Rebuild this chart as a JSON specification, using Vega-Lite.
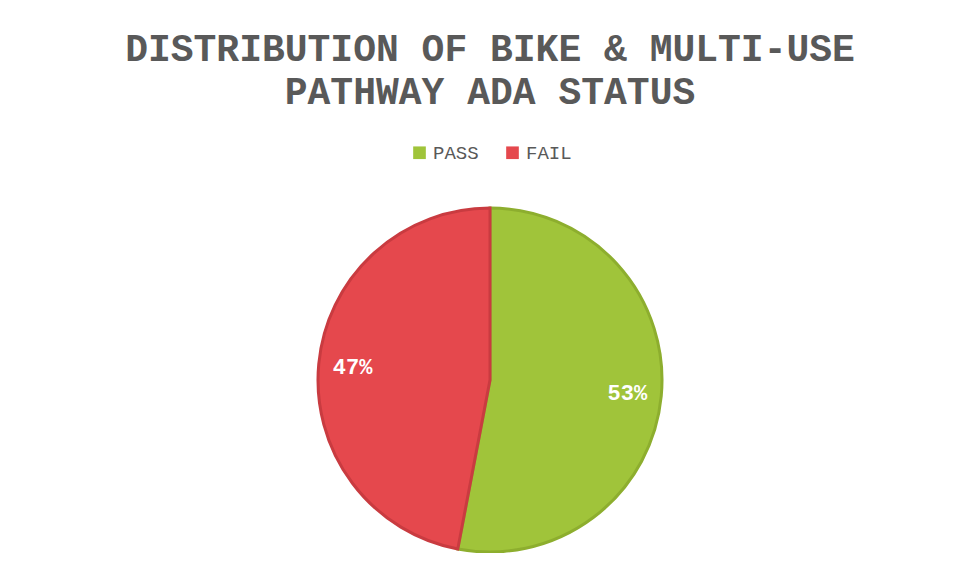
{
  "$schema": "https://vega.github.io/schema/vega-lite/v6.json",
  "autosize": "none",
  "padding": {"top": 207, "left": 0, "right": 0, "bottom": 0},
  "width": 980,
  "height": 346,
  "background": "white",
  "config": {"view": {"stroke": null}},
  "title": {
    "text": ["DISTRIBUTION OF BIKE & MULTI-USE", "PATHWAY ADA STATUS"],
    "font": "Liberation Mono",
    "fontSize": 38,
    "fontWeight": "bold",
    "color": "#595959",
    "anchor": "middle",
    "frame": "group",
    "lineHeight": 43,
    "baseline": "alphabetic",
    "offset": 10,
    "dy": 9
  },
  "data": {
    "values": [
      {"status": "PASS", "value": 53, "label": "53%", "ord": 1},
      {"status": "FAIL", "value": 47, "label": "47%", "ord": 2}
    ]
  },
  "encoding": {
    "theta": {"field": "value", "type": "quantitative", "stack": true},
    "order": {"field": "ord", "type": "quantitative"}
  },
  "layer": [
    {
      "mark": {"type": "arc", "outerRadius": 172, "strokeWidth": 3},
      "encoding": {
        "color": {
          "field": "status",
          "type": "nominal",
          "sort": ["PASS", "FAIL"],
          "scale": {"domain": ["PASS", "FAIL"], "range": ["#A0C43A", "#E5484D"]},
          "legend": {
            "title": null,
            "orient": "none",
            "legendX": 410,
            "legendY": -64,
            "direction": "horizontal",
            "symbolType": "square",
            "symbolSize": 160,
            "symbolStrokeWidth": 0,
            "labelFont": "Liberation Mono",
            "labelFontSize": 19,
            "labelColor": "#595959",
            "columnPadding": 24,
            "labelOffset": 4
          }
        },
        "stroke": {
          "field": "status",
          "type": "nominal",
          "scale": {"domain": ["PASS", "FAIL"], "range": ["#8DAE2E", "#C93B40"]},
          "legend": null
        }
      }
    },
    {
      "mark": {"type": "text", "radius": 138, "font": "Liberation Mono", "fontWeight": "bold", "fontSize": 22, "color": "white"},
      "encoding": {
        "text": {"field": "label", "type": "nominal"}
      }
    }
  ]
}
